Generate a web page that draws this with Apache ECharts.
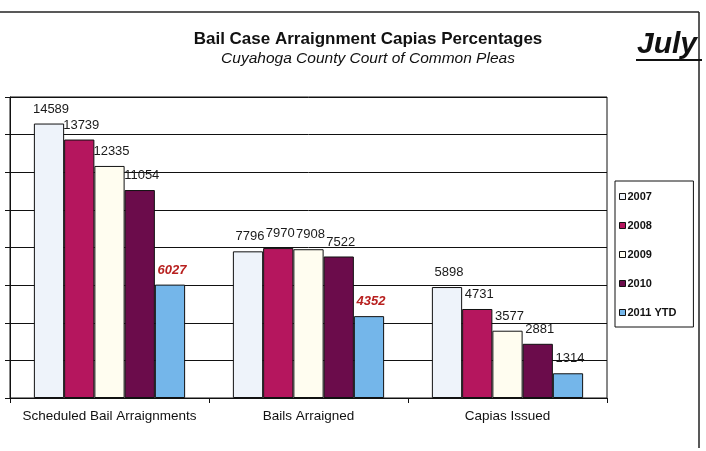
<!DOCTYPE html>
<html>
<head>
<meta charset="utf-8">
<script src="https://cdn.jsdelivr.net/npm/echarts@6/dist/echarts.min.js"></script>
<style>
  html, body { margin: 0; padding: 0; background: #fff; }
  #main { width: 706px; height: 451px; }
</style>
</head>
<body>
<div id="main"></div>
<script>
// categories and yearly values
var categories = ['Scheduled Bail Arraignments', 'Bails Arraigned', 'Capias Issued'];
var years = ['2007', '2008', '2009', '2010', '2011 YTD'];
var v2007 = [14589, 7796, 5898];
var v2008 = [13739, 7970, 4731];
var v2009 = [12335, 7908, 3577];
var v2010 = [11054, 7522, 2881];
var v2011 = [6027, 4352, 1314];
var yearColors = ['#eef3fa', '#b5165e', '#fffdf0', '#6b0c4b', '#74b6ea'];

var chart = echarts.init(document.getElementById('main'));
var font = 'Liberation Sans, Arial, sans-serif';

var allValues = [v2007, v2008, v2009, v2010, v2011];
var series = [];
for (var i = 0; i < years.length; i++) {
    var data = allValues[i].map(function (v, j) {
        // 2011 YTD labels are red italic, except the last one
        if (i === 4 && j < 2) {
            return { value: v, label: { color: '#b8201f', fontStyle: 'italic', fontWeight: 'bold' } };
        }
        return v;
    });
    series.push({
        name: years[i],
        type: 'bar',
        barGap: '0%',
        barCategoryGap: '24%',
        data: data,
        itemStyle: { color: yearColors[i], borderColor: '#111', borderWidth: 1 },
        label: {
            show: true,
            position: 'top',
            distance: 8,
            offset: [2, 0],
            color: '#1a1a1a',
            fontFamily: font,
            fontSize: 13
        }
    });
}

var option = {
    animation: false,
    backgroundColor: '#fff',
    title: [{
        text: 'Bail Case Arraignment Capias Percentages',
        subtext: 'Cuyahoga County Court of Common Pleas',
        left: 368,
        top: 31,
        textAlign: 'center',
        padding: 0,
        itemGap: 3,
        textStyle: { fontFamily: font, fontSize: 17, fontWeight: 'bold', color: '#111' },
        subtextStyle: { fontFamily: font, fontSize: 15.5, fontStyle: 'italic', color: '#111' }
    }, {
        text: 'July',
        left: 637,
        top: 30,
        padding: 0,
        textStyle: { fontFamily: font, fontSize: 30, fontWeight: 'bold', fontStyle: 'italic', color: '#111' }
    }],
    legend: {
        orient: 'vertical',
        left: 615,
        top: 181,
        padding: [10, 17, 9, 4],
        itemWidth: 6,
        itemHeight: 6,
        itemGap: 18,
        borderColor: '#111',
        borderWidth: 1,
        icon: 'rect',
        data: years,
        textStyle: { fontFamily: font, fontSize: 11, fontWeight: 'bold', color: '#111', padding: [0, 0, 0, -3] },
        itemStyle: { borderColor: '#111', borderWidth: 1 }
    },
    grid: {
        left: 10,
        right: 99,
        top: 97,
        bottom: 53,
        show: true,
        borderColor: '#111',
        borderWidth: 1
    },
    xAxis: {
        type: 'category',
        data: categories,
        axisLine: { lineStyle: { color: '#111' } },
        axisTick: { show: true, length: 5, lineStyle: { color: '#111' } },
        axisLabel: { interval: 0, fontFamily: font, fontSize: 13.5, color: '#111', margin: 11 }
    },
    yAxis: {
        type: 'value',
        min: 0,
        max: 16000,
        interval: 2000,
        axisLine: { show: true, lineStyle: { color: '#111' } },
        axisTick: { show: true, length: 5, lineStyle: { color: '#111' } },
        axisLabel: { show: false },
        splitLine: { lineStyle: { color: '#111', width: 1 } }
    },
    graphic: [
        // page frame from the scan and the underline under "July"
        { type: 'line', shape: { x1: 0, y1: 12, x2: 699, y2: 12 }, style: { stroke: '#222', lineWidth: 1.5 } },
        { type: 'line', shape: { x1: 699, y1: 12, x2: 699, y2: 448 }, style: { stroke: '#222', lineWidth: 1.5 } },
        { type: 'line', shape: { x1: 636, y1: 60, x2: 702, y2: 60 }, style: { stroke: '#111', lineWidth: 2 } }
    ],
    series: series
};
chart.setOption(option);
</script>
</body>
</html>
